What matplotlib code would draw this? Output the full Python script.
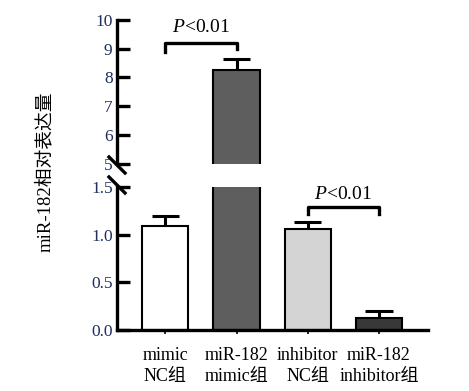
import matplotlib.pyplot as plt
from matplotlib.lines import Line2D
import numpy as np

plt.rcParams['font.family'] = ['Liberation Serif', 'Noto Sans CJK SC']
plt.rcParams['mathtext.fontset'] = 'custom'
plt.rcParams['mathtext.rm'] = 'Liberation Serif'
plt.rcParams['mathtext.it'] = 'Liberation Serif:italic'

# datos
grupos = ["mimic\nNC组", "miR-182\nmimic组", "inhibitor\nNC组", "miR-182\ninhibitor组"]
medias = [1.09, 8.26, 1.06, 0.125]
errores = [0.10, 0.38, 0.07, 0.075]
colores = ["#ffffff", "#5e5e5e", "#d4d4d4", "#383838"]
ticks_sup = [5, 6, 7, 8, 9, 10]
ticks_inf = [0.0, 0.5, 1.0, 1.5]
etiq_inf = ["0.0", "0.5", "1.0", "1.5"]

color_tick = "#1f2f5e"
x = np.arange(len(grupos))

fig = plt.figure(figsize=(4.69, 3.91), dpi=100)
ax_sup = fig.add_axes([0.249, 0.581, 0.664, 0.368])
ax_inf = fig.add_axes([0.249, 0.156, 0.664, 0.366])

for ax in (ax_sup, ax_inf):
    ax.bar(x, medias, width=0.65, color=colores, edgecolor="black", linewidth=1.5, zorder=2)
    ax.vlines(x, medias, np.array(medias) + np.array(errores), color="black", lw=2.2, zorder=1)
    ax.hlines(np.array(medias) + np.array(errores), x - 0.19, x + 0.19, color="black", lw=2.2, zorder=1)
    ax.set_xlim(-0.68, 3.69)
    ax.spines["top"].set_visible(False)
    ax.spines["right"].set_visible(False)
    ax.spines["left"].set_linewidth(2.4)
    ax.tick_params(axis="y", direction="in", length=9, width=2.4, labelsize=12.5,
                   labelcolor=color_tick, pad=3)

# panel superior
ax_sup.set_ylim(5, 10)
ax_sup.set_yticks(ticks_sup)
ax_sup.spines["bottom"].set_visible(False)
ax_sup.set_xticks([])

# panel inferior
ax_inf.set_ylim(0, 1.5)
ax_inf.set_yticks(ticks_inf)
ax_inf.set_yticklabels(etiq_inf)
ax_inf.spines["bottom"].set_linewidth(2.4)
ax_inf.set_xticks(x)
ax_inf.set_xticklabels(grupos, fontsize=13, linespacing=1.35)
ax_inf.tick_params(axis="x", direction="out", length=3, width=1.2, pad=9)

# corchetes de significancia
ax_sup.plot([0, 0, 1, 1], [8.9, 9.2, 9.2, 9.0], color="black", lw=2.4, clip_on=False)
ax_sup.text(0.5, 9.45, r"$\it{P}$<0.01", ha="center", va="bottom", fontsize=14)
ax_inf.plot([2, 2, 3, 3], [1.22, 1.285, 1.285, 1.22], color="black", lw=2.4, clip_on=False)
ax_inf.text(2.5, 1.33, r"$\it{P}$<0.01", ha="center", va="bottom", fontsize=14)

# marcas de corte del eje
for yc in (165, 185):
    yf = 1 - yc / 391
    fig.add_artist(Line2D([109 / 469, 125 / 469], [yf + 8 / 391, yf - 8 / 391], color="black", lw=2.4))

fig.text(0.096, 0.56, "miR-182相对表达量", rotation=90, ha="center", va="center", fontsize=13.5)

plt.savefig("out.png", dpi=100)
